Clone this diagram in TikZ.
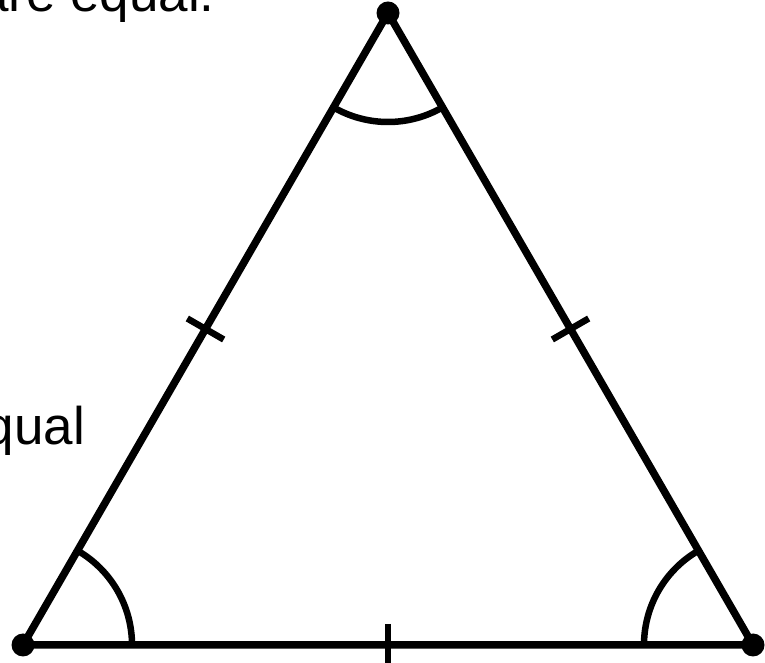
\documentclass[tikz,border=0pt]{standalone}
\usepackage{fontspec}
\setmainfont{Liberation Sans}
\usetikzlibrary{calc}

\begin{document}
\begin{tikzpicture}[
    x=1pt, y=1pt,
    side/.style={line width=7.5pt, line join=miter},
    anglearc/.style={line width=6.5pt},
    tickmark/.style={line width=6.5pt},
    vertexdot/.style={fill=black},
    label text/.style={anchor=base east, inner sep=0pt, font=\fontsize{53}{60}\selectfont}
]

% --- PARAMETER ---
\def\rw{109}    % Radius der Winkelboegen
\def\tl{21pt}   % halbe Laenge der Striche
\def\rp{11.5}   % Radius der Eckpunkte

\useasboundingbox (0,0) rectangle (765,663);
\clip (0,0) rectangle (765,663);

% --- TEXT (am Rand abgeschnitten) ---
\node[label text] (txtTop) at (215,651) {are equal.};
\node[label text] (txtLeft) at (85,218) {qual};

% --- ECKEN ---
\coordinate (A) at (23,18);
\coordinate (B) at (753,18);
\coordinate (C) at (388,650);

% --- DREIECK ---
\draw[side] (A) -- (B) -- (C) -- cycle;

% --- WINKELBOEGEN ---
\draw[anglearc] ($(A)+(0:\rw)$) arc (0:60:\rw);
\draw[anglearc] ($(B)+(120:\rw)$) arc (120:180:\rw);
\draw[anglearc] ($(C)+(240:\rw)$) arc (240:300:\rw);

% --- STRICHE (gleiche Seiten) ---
\coordinate (mAB) at ($(A)!0.5!(B)$);
\coordinate (mBC) at ($(B)!0.5!(C)$);
\coordinate (mCA) at ($(C)!0.5!(A)$);
\draw[tickmark] ($(mAB)!\tl!90:(B)$) -- ($(mAB)!\tl!-90:(B)$);
\draw[tickmark] ($(mBC)!\tl!90:(C)$) -- ($(mBC)!\tl!-90:(C)$);
\draw[tickmark] ($(mCA)!\tl!90:(A)$) -- ($(mCA)!\tl!-90:(A)$);

% --- PUNKTE ---
\fill[vertexdot] (A) circle (\rp);
\fill[vertexdot] (B) circle (\rp);
\fill[vertexdot] (C) circle (\rp);
\end{tikzpicture}
\end{document}
